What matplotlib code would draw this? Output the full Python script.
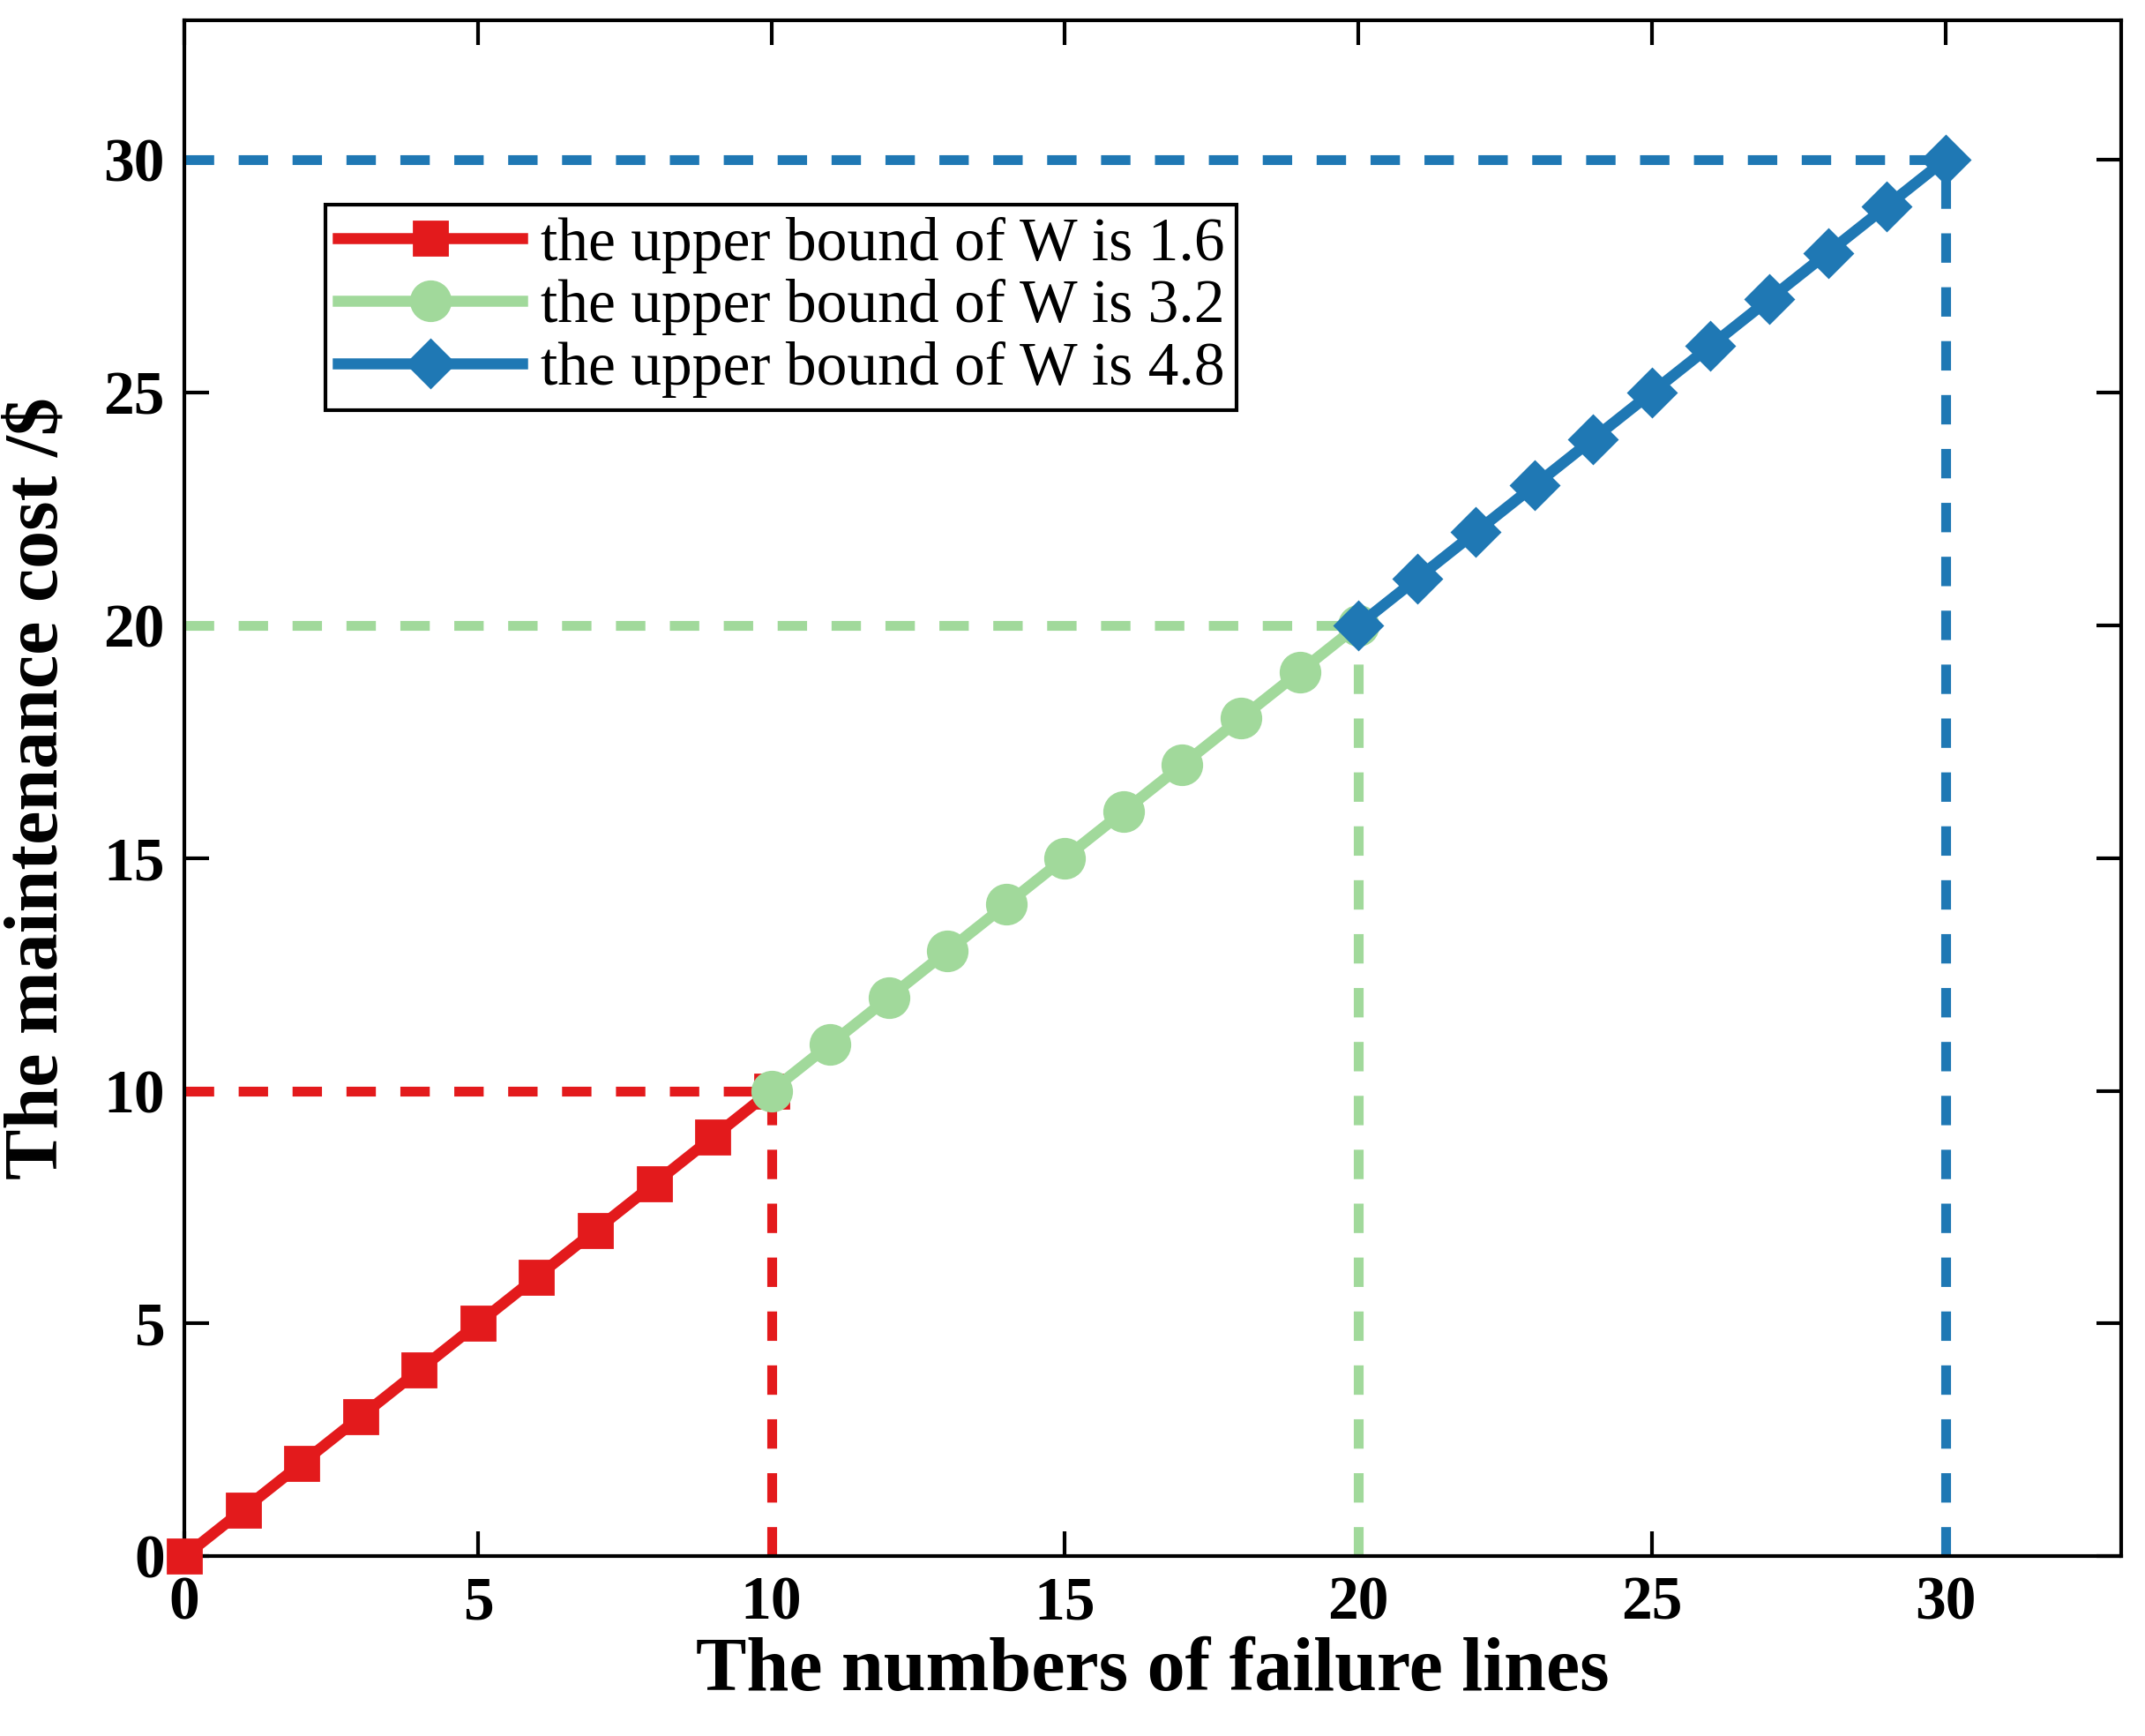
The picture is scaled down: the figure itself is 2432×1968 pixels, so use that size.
import matplotlib.pyplot as plt

plt.rcParams['font.family'] = ['Liberation Serif', 'DejaVu Serif']

# data
x_red = list(range(0, 11))
y_red = list(range(0, 11))
x_green = list(range(10, 21))
y_green = list(range(10, 21))
x_blue = list(range(20, 31))
y_blue = list(range(20, 31))

RED = "#E31A1C"
GREEN = "#A1D99B"
BLUE = "#1F78B4"


def main():
    fig = plt.figure(figsize=(12.16, 9.84), dpi=200)
    ax = fig.add_axes([0.086, 0.1035, 0.903, 0.885])

    series = [
        (x_red, y_red, RED, "s", 14, "the upper bound of W is 1.6"),
        (x_green, y_green, GREEN, "o", 16, "the upper bound of W is 3.2"),
        (x_blue, y_blue, BLUE, "D", 14, "the upper bound of W is 4.8"),
    ]
    for xs, ys, c, m, ms, lab in series:
        # guide lines to the end point
        ax.plot([0, xs[-1]], [ys[-1], ys[-1]], "--", color=c, lw=4, dashes=(3, 2.5))
        ax.plot([xs[-1], xs[-1]], [0, ys[-1]], "--", color=c, lw=4, dashes=(3, 2.5))
    handles = []
    for xs, ys, c, m, ms, lab in series:
        h, = ax.plot(xs, ys, "-", color=c, marker=m, ms=ms, lw=4.5, label=lab,
                     zorder=3, clip_on=False)
        handles.append(h)

    ax.set_xlim(0, 33)
    ax.set_ylim(0, 33)
    ax.set_xticks(range(0, 31, 5))
    ax.set_yticks(range(0, 31, 5))
    ax.tick_params(direction="in", top=True, right=True, length=10, width=1.5,
                   labelsize=25, pad=8)
    for lbl in ax.get_xticklabels() + ax.get_yticklabels():
        lbl.set_fontweight("bold")
    for s in ax.spines.values():
        s.set_linewidth(1.5)

    ax.set_xlabel("The numbers of failure lines", fontsize=31, fontweight="bold", labelpad=2)
    ax.set_ylabel("The maintenance cost /$", fontsize=31, fontweight="bold", labelpad=12)

    leg = ax.legend(handles=handles, loc="upper left", bbox_to_anchor=(0.073, 0.88),
                    fontsize=25, fancybox=False, edgecolor="black", framealpha=1,
                    handlelength=3.0, handletextpad=0.3, borderpad=0.2,
                    labelspacing=0.1, borderaxespad=0)
    leg.get_frame().set_linewidth(1.5)

    fig.savefig("out.png", dpi=200)
    plt.close(fig)


if __name__ == "__main__":
    main()
